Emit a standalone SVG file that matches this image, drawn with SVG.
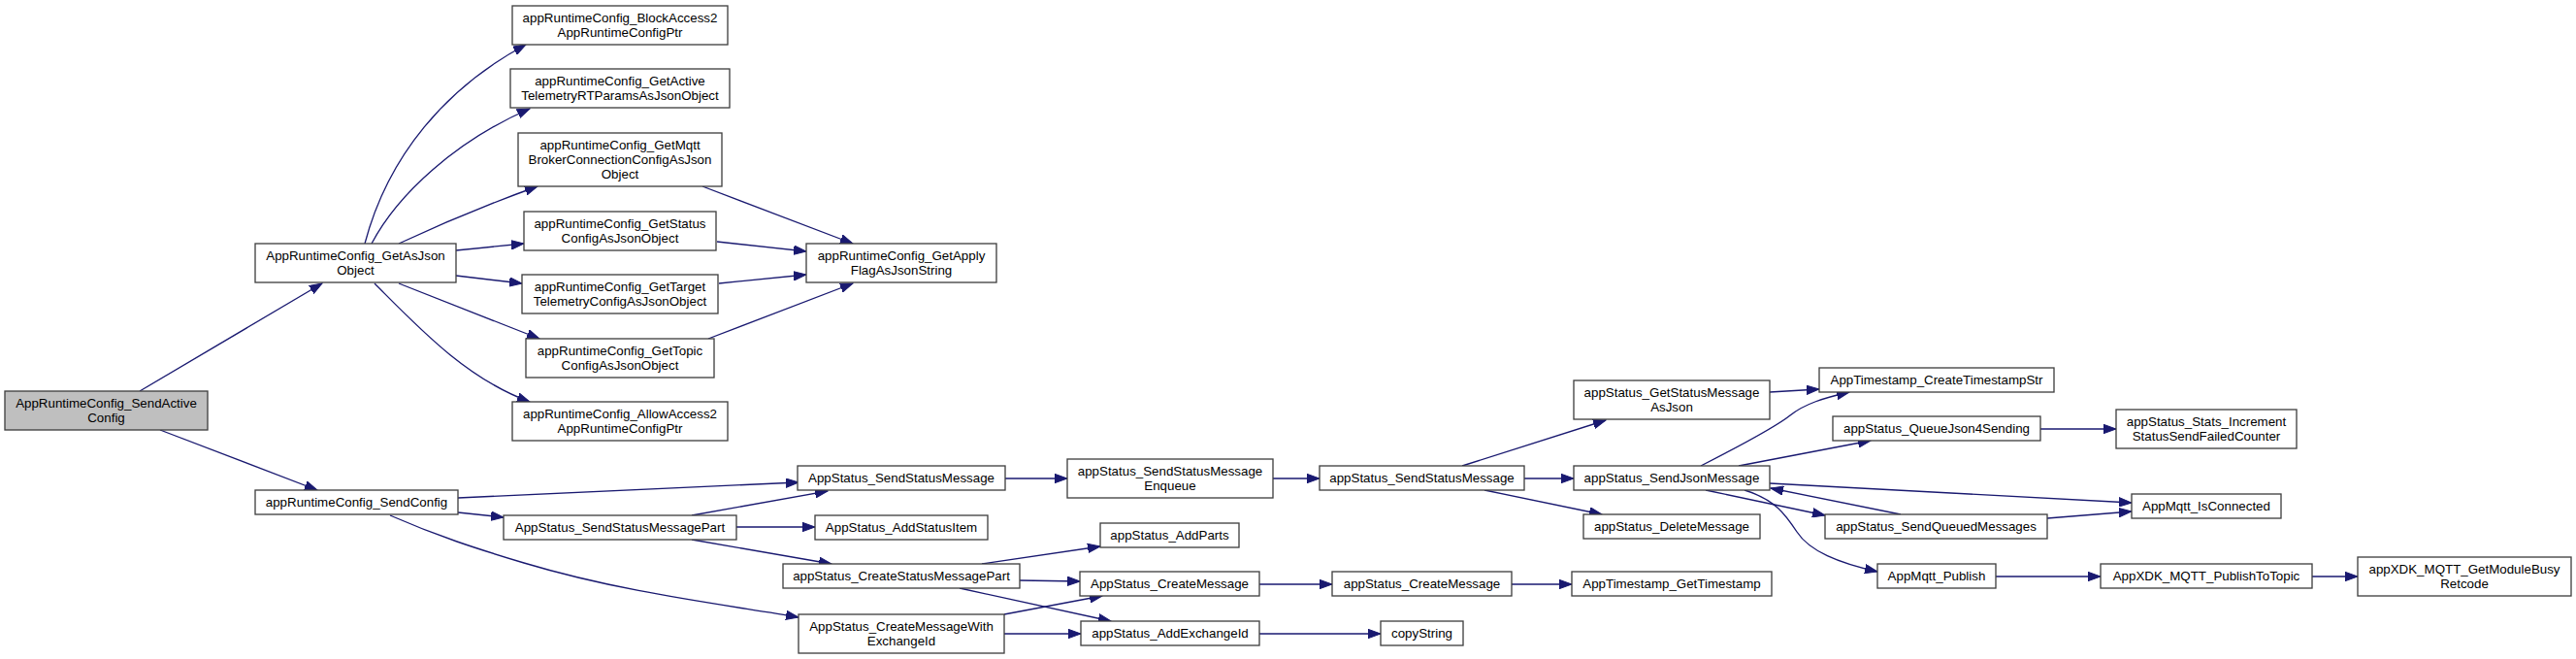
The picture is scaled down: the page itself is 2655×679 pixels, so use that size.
<svg xmlns="http://www.w3.org/2000/svg" width="2655" height="679" viewBox="0 0 2655 679">
<style>
.n rect{fill:#ffffff;stroke:#404040;stroke-width:1.33}
.n.g rect{fill:#bfbfbf}
.n text{font-family:"Liberation Sans",Arial,Helvetica,sans-serif;font-size:13.33px;fill:#000;text-anchor:middle}
.e path{fill:none;stroke:#191970;stroke-width:1.33;marker-end:url(#ah)}
</style>
<defs>
<marker id="ah" markerUnits="userSpaceOnUse" markerWidth="14" markerHeight="10" refX="13" refY="5" orient="auto">
<path d="M0,0.3 L13,5 L0,9.7 z" fill="#191970" stroke="#191970" stroke-width="1"/>
</marker>
</defs>
<rect width="2655" height="679" fill="#ffffff"/>
<g id="edges" class="e">
<path d="M144,403 L332,292"/>
<path d="M165,443 L327,505"/>
<path d="M376,251 C400,160 460,90 542,46"/>
<path d="M383,251 C410,200 470,145 546,112"/>
<path d="M411,251 Q482,218 554,192"/>
<path d="M470,258 L540,251"/>
<path d="M470,284 L538,292"/>
<path d="M411,292 L556,349"/>
<path d="M386,292 C430,336 480,390 546,414"/>
<path d="M724,192 L879,251"/>
<path d="M739,249 L831,259"/>
<path d="M741,292 L831,283"/>
<path d="M730,349 L879,292"/>
<path d="M472,513 L823,497"/>
<path d="M472,528 L519,533"/>
<path d="M402,531 C450,552 490,565 540,580 C640,610 740,622 823,636"/>
<path d="M713,531 L853,506"/>
<path d="M759,543 L840,543"/>
<path d="M713,556 L857,581"/>
<path d="M1036,493 L1100,493"/>
<path d="M1312,493 L1360,493"/>
<path d="M1507,480 L1655,433"/>
<path d="M1571,493 L1622,493"/>
<path d="M1530,505 L1651,530"/>
<path d="M1012,581 L1134,563"/>
<path d="M1051,598 L1113,599"/>
<path d="M989,606 L1145,640"/>
<path d="M1035,633 L1136,614"/>
<path d="M1035,653 L1114,653"/>
<path d="M1298,602 L1373,602"/>
<path d="M1298,653 L1423,653"/>
<path d="M1558,602 L1620,602"/>
<path d="M1824,404 L1875,401"/>
<path d="M1753,480 C1800,456 1830,440 1845,428 C1860,416 1880,410 1906,404"/>
<path d="M1792,480 L1928,454"/>
<path d="M1824,498 L2197,518"/>
<path d="M1758,505 L1881,531"/>
<path d="M1959,530 L1825,503"/>
<path d="M1798,505 C1830,515 1840,530 1852,548 C1865,568 1895,580 1935,589"/>
<path d="M2110,534 L2197,527"/>
<path d="M2103,442 L2181,442"/>
<path d="M2057,594 L2165,594"/>
<path d="M2383,594 L2430,594"/>
</g>
<g id="n0" class="n g"><rect x="5" y="403" width="209" height="40"/><text x="109.5" y="420">AppRuntimeConfig_SendActive</text><text x="109.5" y="435">Config</text></g>
<g id="n1" class="n"><rect x="263" y="251" width="207" height="40"/><text x="366.5" y="268">AppRuntimeConfig_GetAsJson</text><text x="366.5" y="283">Object</text></g>
<g id="n2" class="n"><rect x="528" y="6" width="222" height="40"/><text x="639" y="23">appRuntimeConfig_BlockAccess2</text><text x="639" y="38">AppRuntimeConfigPtr</text></g>
<g id="n3" class="n"><rect x="526" y="71" width="226" height="40"/><text x="639" y="88">appRuntimeConfig_GetActive</text><text x="639" y="103">TelemetryRTParamsAsJsonObject</text></g>
<g id="n4" class="n"><rect x="534" y="137" width="210" height="55"/><text x="639" y="154">appRuntimeConfig_GetMqtt</text><text x="639" y="169">BrokerConnectionConfigAsJson</text><text x="639" y="184">Object</text></g>
<g id="n5" class="n"><rect x="540" y="218" width="198" height="40"/><text x="639" y="235">appRuntimeConfig_GetStatus</text><text x="639" y="250">ConfigAsJsonObject</text></g>
<g id="n6" class="n"><rect x="538" y="283" width="202" height="40"/><text x="639" y="300">appRuntimeConfig_GetTarget</text><text x="639" y="315">TelemetryConfigAsJsonObject</text></g>
<g id="n7" class="n"><rect x="542" y="349" width="194" height="40"/><text x="639" y="366">appRuntimeConfig_GetTopic</text><text x="639" y="381">ConfigAsJsonObject</text></g>
<g id="n8" class="n"><rect x="528" y="414" width="222" height="40"/><text x="639" y="431">appRuntimeConfig_AllowAccess2</text><text x="639" y="446">AppRuntimeConfigPtr</text></g>
<g id="n9" class="n"><rect x="831" y="251" width="196" height="40"/><text x="929" y="268">appRuntimeConfig_GetApply</text><text x="929" y="283">FlagAsJsonString</text></g>
<g id="n10" class="n"><rect x="263" y="505" width="209" height="25"/><text x="367.5" y="522">appRuntimeConfig_SendConfig</text></g>
<g id="n11" class="n"><rect x="519" y="531" width="240" height="25"/><text x="639" y="548">AppStatus_SendStatusMessagePart</text></g>
<g id="n12" class="n"><rect x="822" y="480" width="214" height="25"/><text x="929" y="497">AppStatus_SendStatusMessage</text></g>
<g id="n13" class="n"><rect x="1100" y="473" width="212" height="40"/><text x="1206" y="490">appStatus_SendStatusMessage</text><text x="1206" y="505">Enqueue</text></g>
<g id="n14" class="n"><rect x="1360" y="480" width="211" height="25"/><text x="1465.5" y="497">appStatus_SendStatusMessage</text></g>
<g id="n15" class="n"><rect x="840" y="531" width="178" height="25"/><text x="929" y="548">AppStatus_AddStatusItem</text></g>
<g id="n16" class="n"><rect x="1134" y="539" width="143" height="25"/><text x="1205.5" y="556">appStatus_AddParts</text></g>
<g id="n17" class="n"><rect x="807" y="581" width="244" height="25"/><text x="929" y="598">appStatus_CreateStatusMessagePart</text></g>
<g id="n18" class="n"><rect x="1113" y="589" width="185" height="25"/><text x="1205.5" y="606">AppStatus_CreateMessage</text></g>
<g id="n19" class="n"><rect x="1373" y="589" width="185" height="25"/><text x="1465.5" y="606">appStatus_CreateMessage</text></g>
<g id="n20" class="n"><rect x="823" y="633" width="212" height="40"/><text x="929" y="650">AppStatus_CreateMessageWith</text><text x="929" y="665">ExchangeId</text></g>
<g id="n21" class="n"><rect x="1114" y="640" width="184" height="25"/><text x="1206" y="657">appStatus_AddExchangeId</text></g>
<g id="n22" class="n"><rect x="1423" y="640" width="85" height="25"/><text x="1465.5" y="657">copyString</text></g>
<g id="n23" class="n"><rect x="1622" y="392" width="202" height="40"/><text x="1723" y="409">appStatus_GetStatusMessage</text><text x="1723" y="424">AsJson</text></g>
<g id="n24" class="n"><rect x="1875" y="379" width="242" height="25"/><text x="1996" y="396">AppTimestamp_CreateTimestampStr</text></g>
<g id="n25" class="n"><rect x="1889" y="429" width="214" height="25"/><text x="1996" y="446">appStatus_QueueJson4Sending</text></g>
<g id="n26" class="n"><rect x="1622" y="480" width="202" height="25"/><text x="1723" y="497">appStatus_SendJsonMessage</text></g>
<g id="n27" class="n"><rect x="1632" y="530" width="182" height="25"/><text x="1723" y="547">appStatus_DeleteMessage</text></g>
<g id="n28" class="n"><rect x="1881" y="530" width="229" height="25"/><text x="1995.5" y="547">appStatus_SendQueuedMessages</text></g>
<g id="n29" class="n"><rect x="1620" y="589" width="206" height="25"/><text x="1723" y="606">AppTimestamp_GetTimestamp</text></g>
<g id="n30" class="n"><rect x="1935" y="581" width="122" height="25"/><text x="1996" y="598">AppMqtt_Publish</text></g>
<g id="n31" class="n"><rect x="2181" y="422" width="186" height="40"/><text x="2274" y="439">appStatus_Stats_Increment</text><text x="2274" y="454">StatusSendFailedCounter</text></g>
<g id="n32" class="n"><rect x="2197" y="509" width="154" height="25"/><text x="2274" y="526">AppMqtt_IsConnected</text></g>
<g id="n33" class="n"><rect x="2165" y="581" width="218" height="25"/><text x="2274" y="598">AppXDK_MQTT_PublishToTopic</text></g>
<g id="n34" class="n"><rect x="2430" y="574" width="220" height="40"/><text x="2540" y="591">appXDK_MQTT_GetModuleBusy</text><text x="2540" y="606">Retcode</text></g>
</svg>
